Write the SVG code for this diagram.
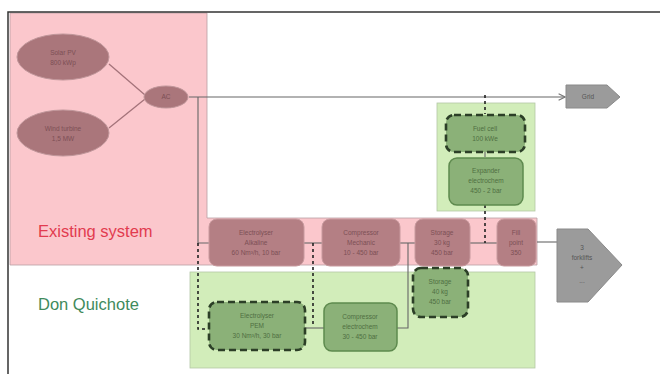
<svg xmlns="http://www.w3.org/2000/svg" width="667" height="374" viewBox="0 0 667 374">
  <defs>
    <marker id="open-arrow" viewBox="0 0 10 10" refX="9" refY="5" markerWidth="8" markerHeight="8" markerUnits="userSpaceOnUse" orient="auto">
      <path d="M1,1 L9,5 L1,9" fill="none" stroke="#777" stroke-width="1.4"/>
    </marker>
    <style>
      .frame { stroke: #333; stroke-width: 1.5; fill: none; }
      .zone-pink { fill: #fbc7cc; stroke: #b9a0a3; stroke-width: 0.8; }
      .zone-green { fill: #d2edba; stroke: #b3c7a6; stroke-width: 0.8; }
      .old { fill: #b47f84; stroke: #c89a9e; stroke-width: 1; }
      .oval { fill: #aa767b; stroke: #c0969a; stroke-width: 1; }
      .new { fill: #8bb178; stroke: #5e8a4e; stroke-width: 1.5; }
      .new-dash { fill: #8bb178; stroke: #2c3f27; stroke-width: 2.6; stroke-dasharray: 7 4; }
      .out { fill: #9b9b9b; stroke: #8a8a8a; stroke-width: 1; }
      .wire { stroke: #666; stroke-width: 1.1; fill: none; }
      .feed { stroke: #a4737a; stroke-width: 1.3; fill: none; }
      .dash { stroke: #222; stroke-width: 1.6; fill: none; stroke-dasharray: 3 3; }
      .t { font-family: "Liberation Sans", Arial, sans-serif; font-size: 6.5px; text-anchor: middle; }
      .t-old { fill: #7c4f55; }
      .t-new { fill: #4f6f42; }
      .t-out { fill: #555; }
      .zone-label { font-family: "Liberation Sans", Arial, sans-serif; font-size: 16.5px; }
    </style>
  </defs>

  <rect width="667" height="374" fill="#ffffff"/>

  <!-- zones -->
  <g id="zone-existing">
    <path class="zone-pink" d="M10,13 H207 V218 H537 V265 H10 Z"/>
    <text class="zone-label" x="38" y="237" fill="#e23b4f">Existing system</text>
  </g>
  <g id="zone-don-quichote">
    <rect class="zone-green" x="190" y="272" width="345" height="96"/>
    <rect class="zone-green" x="437" y="103" width="98" height="108"/>
    <text class="zone-label" x="38" y="310" fill="#3f8a5c">Don Quichote</text>
  </g>

  <!-- frame -->
  <path class="frame" d="M8,374 V12 H660"/>

  <!-- connectors -->
  <g id="connectors">
    <line class="feed" x1="109" y1="64" x2="145" y2="95"/>
    <line class="feed" x1="109" y1="128" x2="145" y2="99"/>
    <line class="wire" x1="189" y1="97" x2="565" y2="97" marker-end="url(#open-arrow)"/>
    <polyline class="wire" points="198,97 198,243 209,243"/>
    <line class="wire" x1="304" y1="243" x2="322" y2="243"/>
    <line class="wire" x1="400" y1="243" x2="415" y2="243"/>
    <line class="wire" x1="470" y1="243" x2="497" y2="243"/>
    <line class="wire" x1="537" y1="242" x2="557" y2="242"/>
    <polyline class="wire" points="305,328 324,328"/>
    <polyline class="wire" points="397,328 408,328 408,243"/>
    <line class="wire" x1="485" y1="152" x2="485" y2="157"/>
    <polyline class="dash" points="198,243 198,329 208,329"/>
    <line class="dash" x1="313" y1="243" x2="313" y2="326"/>
    <line class="dash" x1="485" y1="95" x2="485" y2="114"/>
    <line class="dash" x1="485" y1="205" x2="485" y2="243"/>
  </g>

  <!-- sources -->
  <g id="solar">
    <ellipse class="oval" cx="63" cy="57" rx="46" ry="23"/>
    <text class="t t-old" x="63" y="55">Solar PV</text>
    <text class="t t-old" x="63" y="65">800 kWp</text>
  </g>
  <g id="wind">
    <ellipse class="oval" cx="63" cy="133" rx="46" ry="23"/>
    <text class="t t-old" x="63" y="131">Wind turbine</text>
    <text class="t t-old" x="63" y="141">1,5 MW</text>
  </g>
  <g id="ac-bus">
    <ellipse class="oval" cx="166" cy="97" rx="22" ry="11"/>
    <text class="t t-old" x="166" y="99">AC</text>
  </g>

  <!-- existing chain -->
  <g id="electrolyser-alkaline">
    <rect class="old" x="209" y="219" width="95" height="47" rx="8"/>
    <text class="t t-old" x="256" y="235">Electrolyser</text>
    <text class="t t-old" x="256" y="245">Alkaline</text>
    <text class="t t-old" x="256" y="255">60 Nm³/h, 10 bar</text>
  </g>
  <g id="compressor-mechanical">
    <rect class="old" x="322" y="219" width="78" height="47" rx="8"/>
    <text class="t t-old" x="361" y="235">Compressor</text>
    <text class="t t-old" x="361" y="245">Mechanic</text>
    <text class="t t-old" x="361" y="255">10 - 450 bar</text>
  </g>
  <g id="storage-existing">
    <rect class="old" x="415" y="219" width="55" height="47" rx="8"/>
    <text class="t t-old" x="442" y="235">Storage</text>
    <text class="t t-old" x="442" y="245">30 kg</text>
    <text class="t t-old" x="442" y="255">450 bar</text>
  </g>
  <g id="fill-point">
    <rect class="old" x="497" y="219" width="39" height="47" rx="7"/>
    <text class="t t-old" x="516" y="235">Fill</text>
    <text class="t t-old" x="516" y="245">point</text>
    <text class="t t-old" x="516" y="255">350</text>
  </g>

  <!-- outputs -->
  <g id="grid">
    <path class="out" d="M566,85 H607 L620,97 L607,108 H566 Z"/>
    <text class="t t-out" x="588" y="99">Grid</text>
  </g>
  <g id="forklifts">
    <path class="out" d="M557,229 H588 L622,265 L588,302 H557 Z"/>
    <text class="t t-out" x="582" y="250">3</text>
    <text class="t t-out" x="582" y="260">forklifts</text>
    <text class="t t-out" x="582" y="270">+</text>
    <text class="t t-out" x="582" y="283">...</text>
  </g>

  <!-- Don Quichote additions -->
  <g id="fuel-cell">
    <rect class="new-dash" x="446" y="115" width="79" height="37" rx="8"/>
    <text class="t t-new" x="485" y="131">Fuel cell</text>
    <text class="t t-new" x="485" y="141">100 kWe</text>
  </g>
  <g id="expander">
    <rect class="new" x="449" y="158" width="74" height="47" rx="8"/>
    <text class="t t-new" x="486" y="173">Expander</text>
    <text class="t t-new" x="486" y="183">electrochem</text>
    <text class="t t-new" x="486" y="193">450 - 2 bar</text>
  </g>
  <g id="electrolyser-pem">
    <rect class="new-dash" x="209" y="302" width="96" height="48" rx="8"/>
    <text class="t t-new" x="257" y="318">Electrolyser</text>
    <text class="t t-new" x="257" y="328">PEM</text>
    <text class="t t-new" x="257" y="338">30 Nm³/h, 30 bar</text>
  </g>
  <g id="compressor-electrochemical">
    <rect class="new" x="324" y="303" width="73" height="48" rx="8"/>
    <text class="t t-new" x="360" y="319">Compressor</text>
    <text class="t t-new" x="360" y="329">electrochem</text>
    <text class="t t-new" x="360" y="339">30 - 450 bar</text>
  </g>
  <g id="storage-new">
    <rect class="new-dash" x="413" y="268" width="55" height="49" rx="8"/>
    <text class="t t-new" x="440" y="284">Storage</text>
    <text class="t t-new" x="440" y="294">40 kg</text>
    <text class="t t-new" x="440" y="304">450 bar</text>
  </g>
</svg>
